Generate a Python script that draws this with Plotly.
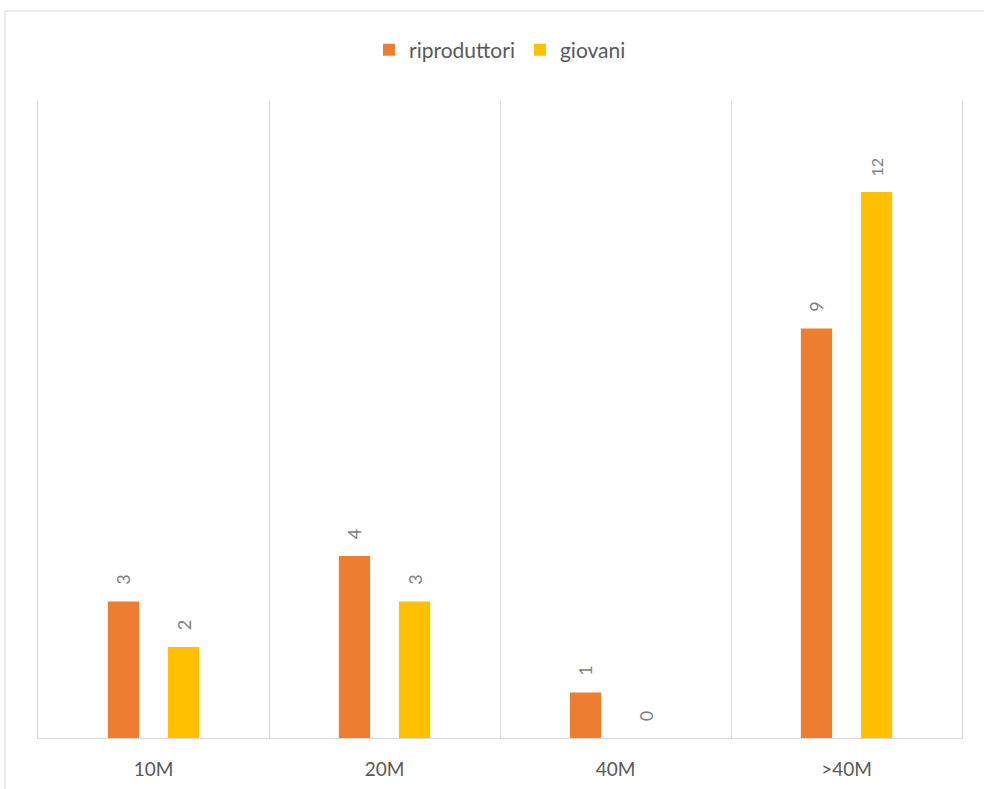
import plotly.graph_objects as go

categories = ["10M", "20M", "40M", ">40M"]
riproduttori = [3, 4, 1, 9]
giovani = [2, 3, 0, 12]

ORANGE = "#ED7D31"
YELLOW = "#FFC000"
TEXT = "#595959"
LABEL = "#7F7F7F"
GRID = "#D9D9D9"
FONT = "Lato, Open Sans, sans-serif"

# value labels sit a little above the bar top, rotated to read bottom-to-top
label_tpl = "\u00a0\u00a0\u00a0%{y}"

fig = go.Figure()
for name, vals, col in [("riproduttori", riproduttori, ORANGE), ("giovani", giovani, YELLOW)]:
    fig.add_trace(go.Bar(
        name=name, x=categories, y=vals,
        marker=dict(color=col, line=dict(width=0)),
        texttemplate=label_tpl, textposition="outside", textangle=-90,
        textfont=dict(size=18, color=LABEL, family=FONT), cliponaxis=False,
    ))

fig.update_layout(
    width=984, height=789,
    margin=dict(l=38, r=22, t=101, b=51, autoexpand=False),
    paper_bgcolor="white", plot_bgcolor="white",
    barmode="group", bargap=0.48, bargroupgap=0.48,
    font=dict(family=FONT, color=TEXT),
    legend=dict(orientation="h", x=0.5, xanchor="center", y=(738 - 50) / 637,
                yanchor="middle", font=dict(size=21, color=TEXT), itemwidth=30,
                traceorder="normal"),
    showlegend=True,
)
fig.update_xaxes(
    type="category", tickson="boundaries", showgrid=True, gridcolor=GRID, gridwidth=1,
    showline=True, linecolor=GRID, linewidth=1, ticks="", automargin=False,
    tickfont=dict(size=19, color=TEXT, family=FONT), ticklabelstandoff=14,
)
fig.update_yaxes(range=[0, 14], showgrid=False, showticklabels=False, zeroline=False,
                 showline=True, mirror=True, linecolor=GRID, linewidth=1, automargin=False)

# outer chart frame
fig.add_shape(type="rect", xref="paper", yref="paper",
              x0=(5 - 38) / 924, x1=1.2, y0=-0.3, y1=(738 - 11) / 637,
              line=dict(color=GRID, width=1), fillcolor="rgba(0,0,0,0)", layer="below")

fig.write_html("out.html")
